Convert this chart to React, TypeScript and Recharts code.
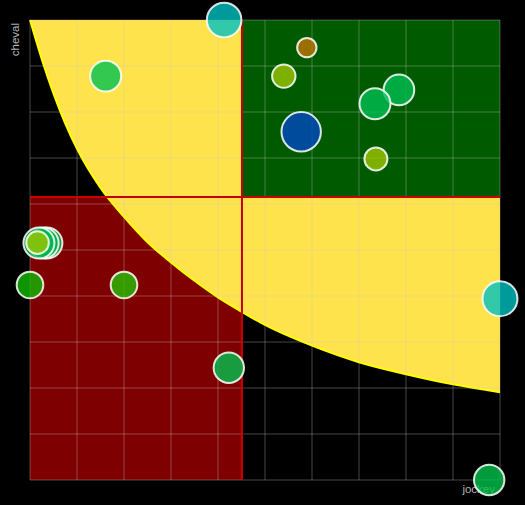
import React from 'react';
import {
  ComposedChart,
  Area,
  Scatter,
  XAxis,
  YAxis,
  ZAxis,
  ReferenceArea,
  ReferenceLine,
  Cell,
} from 'recharts';

// both axes run 0..10, one grid line per unit
const AXIS_TICKS = [0, 1, 2, 3, 4, 5, 6, 7, 8, 9, 10];
const AXIS_MAX = 10;

// quadrant split (averages)
const X_SPLIT = 4.51;
const Y_SPLIT = 6.15;

// lower edge of the yellow zone
const CURVE_X = [0, 0.25, 0.5, 0.75, 1, 1.5, 2, 2.5, 3, 3.5, 4, 4.5, 5, 6, 7, 8, 9, 10];
const CURVE_Y = [10, 9.15, 8.4, 7.75, 7.2, 6.35, 5.72, 5.17, 4.73, 4.33, 3.97, 3.66, 3.37, 2.92, 2.56, 2.3, 2.08, 1.91];

// bubbles, back to front
const BUBBLE_X = [4.13, 1.61, 5.89, 5.4, 7.85, 7.34, 5.77, 7.36, 0.36, 0.28, 0.19, 0.16, 0, 2.0, 4.23, 10, 9.77];
const BUBBLE_Y = [10, 8.78, 9.4, 8.78, 8.48, 8.18, 7.57, 6.98, 5.15, 5.15, 5.15, 5.16, 4.24, 4.24, 2.44, 3.94, 0];
const BUBBLE_Z = [299, 240, 94, 137, 234, 240, 388, 132, 240, 240, 240, 128, 177, 177, 231, 306, 231];
const BUBBLE_COLORS = [
  '#00c0c0', '#00c251', '#c27300', '#9dc500', '#00be52', '#00be52', '#0047c2', '#9dc500',
  '#00b84e', '#00b84e', '#00b84e', '#9dc500', '#10bb00', '#25c200', '#00c250', '#00c0c0', '#00c24b',
];

const curveData = CURVE_X.map((x, i) => ({ x, y: CURVE_Y[i] }));
const bubbleData = BUBBLE_X.map((x, i) => ({ x, y: BUBBLE_Y[i], z: BUBBLE_Z[i] }));

const FONT = '"Liberation Sans", Arial, sans-serif';
const GRID = { stroke: '#c8c8c8', strokeOpacity: 0.35, strokeWidth: 1 };

const XTitle = (props: any) => {
  const { x, y, width } = props.viewBox;
  return (
    <text x={x + width - 5} y={y + 13} textAnchor="end" fill="#b4b4b4" fontSize={11.5} fontFamily={FONT}>
      jockey
    </text>
  );
};

const YTitle = (props: any) => {
  const { x, y } = props.viewBox;
  const tx = x + 19;
  const ty = y + 3;
  return (
    <text
      x={tx}
      y={ty}
      textAnchor="end"
      fill="#b4b4b4"
      fontSize={11.5}
      fontFamily={FONT}
      transform={`rotate(-90 ${tx} ${ty})`}
    >
      cheval
    </text>
  );
};

export default function App() {
  return (
    <div style={{ position: 'absolute', left: 0, top: 0, width: 525, height: 505, background: '#000' }}>
      <ComposedChart
        width={525}
        height={505}
        data={curveData}
        margin={{ top: 20, right: 25, left: 0, bottom: 0 }}
      >
        <XAxis
          type="number"
          dataKey="x"
          domain={[0, AXIS_MAX]}
          ticks={AXIS_TICKS}
          tick={false}
          tickLine={false}
          axisLine={false}
          height={25}
          label={{ content: <XTitle /> }}
        />
        <YAxis
          type="number"
          dataKey="y"
          domain={[0, AXIS_MAX]}
          ticks={AXIS_TICKS}
          tick={false}
          tickLine={false}
          axisLine={false}
          width={30}
          label={{ content: <YTitle /> }}
        />
        <ZAxis type="number" dataKey="z" domain={[0, 400]} range={[0, 400 * Math.PI]} />

        <ReferenceArea
          x1={0}
          x2={X_SPLIT}
          y1={0}
          y2={Y_SPLIT}
          fill="#7f0000"
          fillOpacity={1}
          stroke="none"
          zIndex={1}
        />
        <Area
          type="monotone"
          dataKey="y"
          baseValue={AXIS_MAX}
          fill="#ffe34d"
          fillOpacity={1}
          stroke="#ffff00"
          strokeWidth={2}
          dot={false}
          activeDot={false}
          isAnimationActive={false}
          zIndex={2}
        />
        <ReferenceArea
          x1={X_SPLIT}
          x2={AXIS_MAX}
          y1={Y_SPLIT}
          y2={AXIS_MAX}
          fill="#005a00"
          fillOpacity={1}
          stroke="none"
          zIndex={3}
        />

        {/* grid on top of the coloured zones */}
        {AXIS_TICKS.map((t) => (
          <ReferenceLine key={`gx${t}`} x={t} {...GRID} zIndex={4} />
        ))}
        {AXIS_TICKS.map((t) => (
          <ReferenceLine key={`gy${t}`} y={t} {...GRID} zIndex={4} />
        ))}

        <ReferenceLine x={X_SPLIT} stroke="#c80000" strokeWidth={2} zIndex={5} />
        <ReferenceLine y={Y_SPLIT} stroke="#c80000" strokeWidth={2} zIndex={5} />

        <Scatter
          data={bubbleData}
          stroke="#ffffff"
          strokeOpacity={0.85}
          strokeWidth={2}
          isAnimationActive={false}
          zIndex={3000}
        >
          {bubbleData.map((_, i) => (
            <Cell key={i} fill={BUBBLE_COLORS[i]} fillOpacity={0.8} />
          ))}
        </Scatter>
      </ComposedChart>
    </div>
  );
}
